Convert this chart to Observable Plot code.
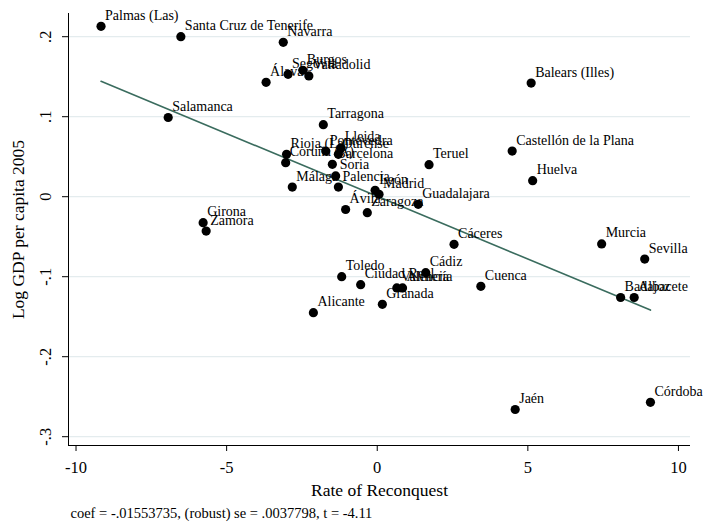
<!DOCTYPE html>
<html>
<head>
<meta charset="utf-8">
<script src="https://cdn.jsdelivr.net/npm/d3@7"></script>
<script src="https://cdn.jsdelivr.net/npm/@observablehq/plot@0.6"></script>
<style>
  html, body { margin: 0; padding: 0; background: #ffffff; }
  #chart { width: 703px; height: 526px; }
</style>
</head>
<body>
<div id="chart"></div>
<script>
const provinces = [
  "Palmas (Las)", "Santa Cruz de Tenerife", "Navarra", "Álava", "Segovia", "Burgos", "Valladolid",
  "Balears (Illes)", "Salamanca", "Tarragona", "Rioja (La)", "Coruña (A)", "Pontevedra", "Lleida",
  "Ourense", "Barcelona", "Soria", "Palencia", "Málaga", "Teruel", "Castellón de la Plana", "Huelva",
  "León", "Madrid", "Ávila", "Zaragoza", "Guadalajara", "Girona", "Zamora", "Cáceres", "Murcia",
  "Sevilla", "Toledo", "Ciudad Real", "Cádiz", "Valencia", "Almería", "Granada", "Alicante",
  "Cuenca", "Badajoz", "Albacete", "Jaén", "Córdoba"
];
const rateOfReconquest = [
  -9.17, -6.52, -3.12, -3.69, -2.96, -2.47, -2.27,
  5.11, -6.94, -1.79, -3.01, -3.04, -1.71, -1.21,
  -1.29, -1.49, -1.38, -1.29, -2.82, 1.72, 4.48, 5.16,
  -0.07, 0.06, -1.05, -0.33, 1.36, -5.78, -5.68, 2.55, 7.45,
  8.88, -1.18, -0.55, 1.61, 0.65, 0.84, 0.17, -2.12,
  3.44, 8.08, 8.53, 4.58, 9.07
];
const logGdp2005 = [
  0.213, 0.200, 0.193, 0.143, 0.153, 0.158, 0.151,
  0.142, 0.099, 0.090, 0.053, 0.0425, 0.057, 0.061,
  0.053, 0.0405, 0.026, 0.012, 0.012, 0.040, 0.057, 0.020,
  0.008, 0.003, -0.016, -0.020, -0.0095, -0.0325, -0.043, -0.0595, -0.059,
  -0.078, -0.100, -0.110, -0.095, -0.114, -0.114, -0.1345, -0.145,
  -0.112, -0.126, -0.126, -0.266, -0.257
];
const xTicks = [-10, -5, 0, 5, 10];
const yTicks = [0.2, 0.1, 0, -0.1, -0.2, -0.3];
const yTickLabels = [".2", ".1", "0", "-.1", "-.2", "-.3"];
const xTitle = "Rate of Reconquest";
const yTitle = "Log GDP per capita 2005";
const note = "coef = -.01553735, (robust) se = .0037798, t = -4.11";

const data = provinces.map((name, i) => ({name, x: rateOfReconquest[i], y: logGdp2005[i]}));
const yLabelData = yTicks.map((v, i) => ({v, label: yTickLabels[i]}));

const serif = "'Liberation Serif', 'Times New Roman', serif";
const xDomain = [-10.25, 10.4];
const yDomain = [-0.311, 0.229];

const chart = Plot.plot({
  width: 703,
  height: 526,
  marginLeft: 68,
  marginRight: 13,
  marginTop: 13,
  marginBottom: 81,
  style: {fontFamily: serif, fontSize: "16px", background: "#ffffff", color: "#000"},
  x: {domain: xDomain},
  y: {domain: yDomain},
  marks: [
    Plot.ruleY(yTicks, {stroke: "#e4ecee", strokeWidth: 1.2}),
    Plot.ruleX([xDomain[0]], {stroke: "#000", strokeWidth: 1}),
    Plot.ruleY([yDomain[0]], {stroke: "#000", strokeWidth: 1}),
    Plot.axisX({ticks: xTicks, tickSize: 6, tickPadding: 10, tickFormat: d => String(d), fontSize: 16.5, label: null}),
    Plot.axisY({ticks: yTicks, tickSize: 6, tickFormat: () => "", label: null}),
    Plot.text(yLabelData, {y: "v", text: "label", frameAnchor: "left", dx: -23, rotate: -90, textAnchor: "middle", fontSize: 16.5}),
    Plot.text([xTitle], {text: d => d, frameAnchor: "bottom", dy: 50, textAnchor: "middle", fontSize: 17.5}),
    Plot.text([yTitle], {text: d => d, frameAnchor: "left", dx: -50, rotate: -90, textAnchor: "middle", fontSize: 17.5}),
    Plot.text([note], {text: d => d, frameAnchor: "bottom-left", textAnchor: "start", dx: 2, dy: 72, fontSize: 14.5}),
    Plot.linearRegressionY(data, {x: "x", y: "y", stroke: "#3a6c5e", strokeWidth: 1.6, ci: 0}),
    Plot.dot(data, {x: "x", y: "y", r: 4.6, fill: "#000", stroke: "none"}),
    Plot.text(data, {x: "x", y: "y", text: "name", dx: 4, dy: -11, textAnchor: "start", fontSize: 14, fill: "#000"})
  ]
});
document.getElementById("chart").appendChild(chart);
</script>
</body>
</html>
